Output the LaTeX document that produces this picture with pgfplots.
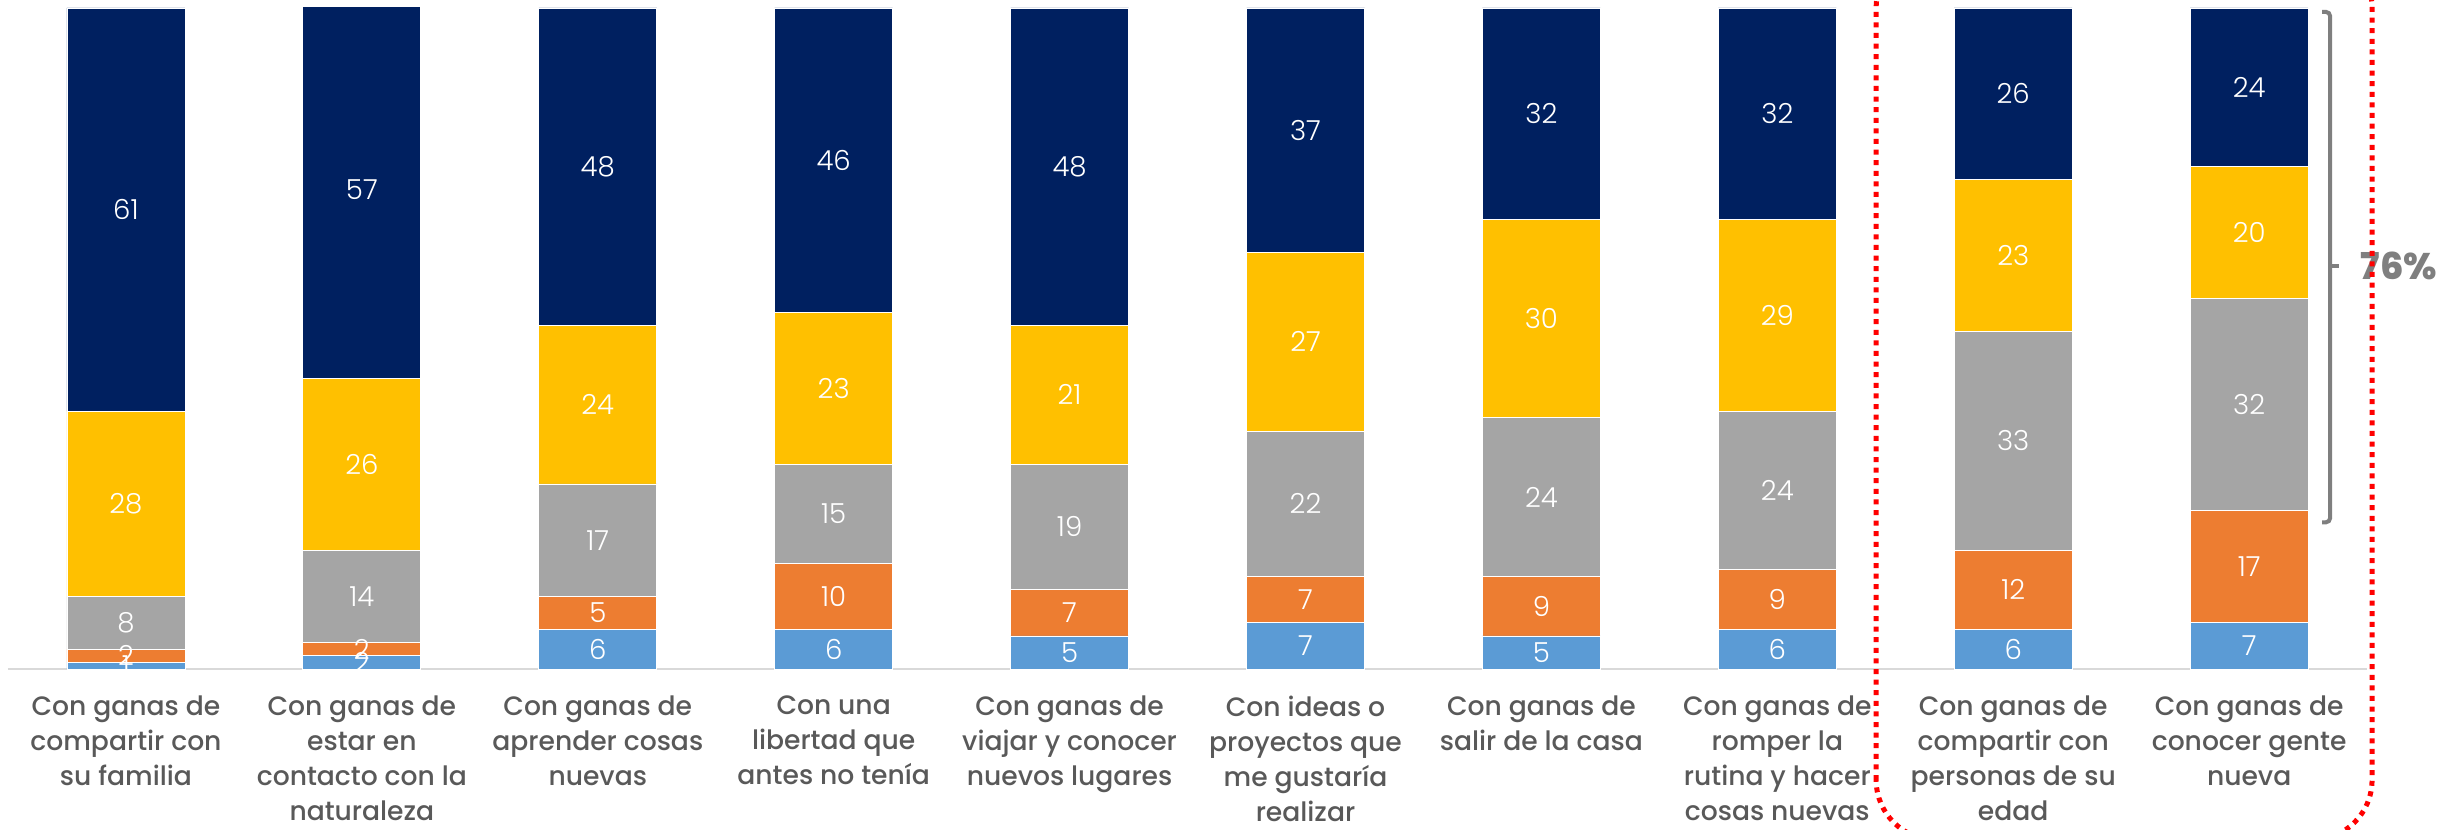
\documentclass[border=0pt]{standalone}
\usepackage{pgfplots}
\pgfplotsset{compat=1.18}
\usepackage{pgfplotstable}
\usepackage{fontspec}
\setmainfont{Poppins}
\newfontfamily\thinfont{Poppins Light}
\newfontfamily\medfont{Poppins Medium}
\newfontfamily\boldfont{Poppins ExtraBold}
\definecolor{cblue}{HTML}{5B9BD5}
\definecolor{corange}{HTML}{ED7D31}
\definecolor{cgray}{HTML}{A5A5A5}
\definecolor{cyellow}{HTML}{FFC000}
\definecolor{cnavy}{HTML}{002060}
\definecolor{labgray}{HTML}{595959}
\definecolor{brgray}{HTML}{7F7F7F}
\definecolor{axgray}{HTML}{D9D9D9}

\pgfplotstableread{
x a b c d e
0 1 2 8 28 61
1 2 2 14 26 57
2 6 5 17 24 48
3 6 10 15 23 46
4 5 7 19 21 48
5 7 7 22 27 37
6 5 9 24 30 32
7 6 9 24 29 32
8 6 12 33 23 26
9 7 17 32 20 24
}\data

\pgfplotsset{
  common/.style={
    at={(0,0)}, anchor=south west,
    scale only axis, width=1179.5pt, height=330.5pt,
    xmin=-0.5, xmax=9.5, ymin=0, ymax=100,
  }
}

\begin{document}
\begin{tikzpicture}
\begin{axis}[common,
  ybar stacked, bar width=59pt,
  axis x line*=bottom, axis y line=none,
  x axis line style={draw=axgray, line width=1.3pt},
  xtick={0,...,9}, major tick length=0pt, ytick=\empty,
  xticklabels={
    {Con ganas de\\compartir con\\su familia},
    {Con ganas de\\estar en\\contacto con la\\naturaleza},
    {Con ganas de\\aprender cosas\\nuevas},
    {Con una\\libertad que\\antes no tenía},
    {Con ganas de\\viajar y conocer\\nuevos lugares},
    {Con ideas o\\proyectos que\\me gustaría\\realizar},
    {Con ganas de\\salir de la casa},
    {Con ganas de\\romper la\\rutina y hacer\\cosas nuevas},
    {Con ganas de\\compartir con\\personas de su\\edad},
    {Con ganas de\\conocer gente\\nueva}},
  xticklabel style={align=center, text=labgray,
    font=\medfont\fontsize{13.3}{17.5}\selectfont, yshift=-10pt},
]
\addplot[fill=cblue, draw=white, line width=0.4pt] table[x=x,y=a]{\data};
\addplot[fill=corange, draw=white, line width=0.4pt] table[x=x,y=b]{\data};
\addplot[fill=cgray, draw=white, line width=0.4pt] table[x=x,y=c]{\data};
\addplot[fill=cyellow, draw=white, line width=0.4pt] table[x=x,y=d]{\data};
\addplot[fill=cnavy, draw=white, line width=0.4pt] table[x=x,y=e]{\data};
\end{axis}

\begin{axis}[common, hide axis, clip=false,
  nodes near coords, point meta=explicit symbolic,
  every node near coord/.append style={anchor=center, text=white,
    font=\thinfont\fontsize{13.8}{16}\selectfont},
]
\addplot[draw=none, mark=none] table[x=x, y expr=\thisrow{a}/2, meta=a]{\data};
\addplot[draw=none, mark=none] table[x=x, y expr=\thisrow{a}+\thisrow{b}/2, meta=b]{\data};
\addplot[draw=none, mark=none] table[x=x, y expr=\thisrow{a}+\thisrow{b}+\thisrow{c}/2, meta=c]{\data};
\addplot[draw=none, mark=none] table[x=x, y expr=\thisrow{a}+\thisrow{b}+\thisrow{c}+\thisrow{d}/2, meta=d]{\data};
\addplot[draw=none, mark=none] table[x=x, y expr=\thisrow{a}+\thisrow{b}+\thisrow{c}+\thisrow{d}+\thisrow{e}/2, meta=e]{\data};
% bracket
\draw[brgray, line width=2pt, rounded corners=2pt]
  (axis cs:9.309,99.4) -- (axis cs:9.343,99.4) -- (axis cs:9.343,22.2) -- (axis cs:9.309,22.2);
\draw[brgray, line width=2pt] (axis cs:9.343,61) -- (axis cs:9.381,61);
\node[anchor=west, inner sep=0pt, text=brgray, font=\boldfont\fontsize{18.5}{22}\selectfont]
  at (axis cs:9.472,61) {76\%};
% highlight
\draw[red, line width=2.5pt, dash pattern=on 2.5pt off 2.8pt, rounded corners=30pt]
  (axis cs:7.419,-25.87) rectangle (axis cs:9.521,109.1);
\coordinate (bl) at (axis cs:-0.5339,-24.21);
\coordinate (tr) at (axis cs:9.843,101.21);
\end{axis}
\pgfresetboundingbox
\path[use as bounding box] (bl) rectangle (tr);
\end{tikzpicture}
\end{document}
